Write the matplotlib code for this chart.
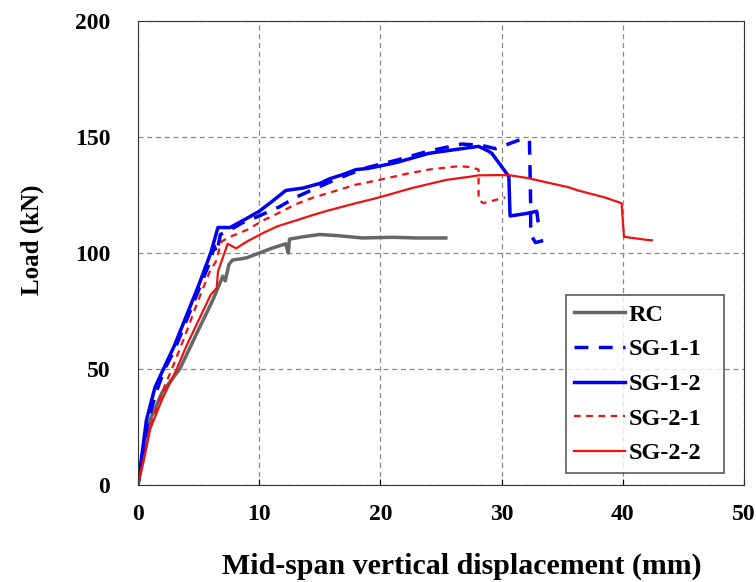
import matplotlib.pyplot as plt

plt.rcParams['font.family'] = ['Liberation Serif', 'DejaVu Serif']
plt.rcParams['font.weight'] = 'bold'

# %% data
rc_x = [0, 0.5, 1.0, 2.0, 3.45, 5.0, 6.2, 7.0, 7.2, 7.5, 7.8, 8.5, 9.0, 10, 11, 12.2, 12.4, 12.5,
        13.6, 15, 16.5, 18.5, 21, 23, 25.4]
rc_y = [0, 16, 28, 40, 50, 67, 80, 90, 88, 95, 97, 97.5, 98, 100, 102, 104, 100, 106,
        107, 108, 107.5, 106.5, 106.8, 106.5, 106.5]

sg11_x = [0, 0.3, 0.8, 1.5, 2.2, 3, 4, 5, 6, 6.3, 6.5, 6.8, 7.6, 8.6, 10, 11.7, 13, 14.7, 16,
          17.4, 19, 21.3, 24, 26.7, 28.3, 29.5, 31.6, 32.3, 32.4, 32.4, 32.8, 33.5, 33.6]
sg11_y = [0, 10, 27, 40, 50, 58, 71, 84, 97, 103, 100, 108, 110, 113, 116, 120, 124, 128, 131,
          134, 137, 140, 144, 147, 146.5, 145, 149, 148.5, 121, 108, 104.5, 105.5, 103.5]

sg12_x = [0, 0.3, 0.7, 1.4, 2.1, 3, 4, 5, 6, 6.6, 7.6, 9, 10, 11, 12.2, 13.6, 15, 15.8, 17, 18,
          19, 21.3, 24, 26.7, 28.1, 28.9, 29.2, 30.6, 30.7, 32, 32.9, 33.0]
sg12_y = [0, 12, 28, 42, 50, 60, 73, 86, 100, 111, 111, 115, 118, 122, 127, 128, 130, 132, 134, 136,
          136.5, 139, 143, 145, 146, 144, 143, 133, 116, 117, 118, 114]

sg21_x = [0, 0.5, 1, 2, 2.8, 4, 5, 6, 6.4, 6.9, 7.6, 9, 10.3, 11.5, 13, 14.5, 15.8, 18, 19.9,
          22, 24, 26.5, 27.5, 28.1, 28.1, 28.5, 30.3]
sg21_y = [0, 12, 25, 40, 50, 66, 80, 93, 96, 105, 107, 110, 114, 117, 121, 124, 126, 129.5, 131.5,
          134, 136, 137.5, 137, 136, 123, 121.5, 124]

sg22_x = [0, 0.5, 1, 2, 3.2, 4, 5, 6, 6.5, 6.6, 7.4, 8.1, 9, 10.3, 11.5, 13, 14.5, 15.8, 18,
          19.9, 22.6, 25.4, 27.5, 28.1, 29.5, 30.6, 32.2, 33.6, 35.5, 36.3, 38.5, 39.9, 40.1,
          42.1, 42.4]
sg22_y = [0, 11, 24, 37, 50, 60, 71, 82, 85, 92, 104, 102, 105, 108.6, 111.5, 114, 116.5, 118.5,
          121.5, 124, 128, 131.5, 133, 133.5, 133.6, 133.6, 132.3, 130.6, 128.4, 127, 124, 121.5,
          107, 105.6, 105.5]

# %% plot
fig = plt.figure(figsize=(7.56, 5.82), dpi=100)
ax = fig.add_axes([0.1825, 0.1667, 0.8016, 0.797])

ax.plot(rc_x, rc_y, color='#666666', lw=2.5, label='RC')
ax.plot(sg11_x, sg11_y, color='#0000ee', lw=2.5, ls=(0, (4, 3)), label='SG-1-1')
ax.plot(sg12_x, sg12_y, color='#0000ee', lw=2.5, label='SG-1-2')
ax.plot(sg21_x, sg21_y, color='#ee1111', lw=1.6, ls=(0, (3, 2.5)), label='SG-2-1')
ax.plot(sg22_x, sg22_y, color='#ee1111', lw=1.6, label='SG-2-2')

ax.set_xlim(0, 50)
ax.set_ylim(0, 200)
ax.set_xticks(range(0, 51, 10))
ax.set_yticks(range(0, 201, 50))
ax.grid(True, ls=(0, (4, 3)), color='#888888', lw=0.9)
ax.tick_params(direction='in', length=4, labelsize=17)
ax.tick_params(axis='y', pad=20, length=0)
ax.tick_params(axis='x', pad=14)
for s in ax.spines.values():
    s.set_color('#333333')

ax.set_xlabel('Mid-span vertical displacement (mm)', fontsize=21.5, fontweight='bold')
ax.xaxis.set_label_coords(0.535, -0.146)
ax.set_ylabel('Load (kN)', fontsize=18, fontweight='bold')
ax.yaxis.set_label_coords(-0.155, 0.528)

leg = ax.legend(loc='lower left', bbox_to_anchor=(0.706, 0.026, 0.261, 0.38), mode='expand',
                fancybox=False, edgecolor='#333333', fontsize=17.5, handlelength=2.1,
                handletextpad=0.15, labelspacing=0.52, borderpad=0.35, borderaxespad=0)
leg.get_frame().set_linewidth(1.2)

fig.savefig('out.png', dpi=100)
